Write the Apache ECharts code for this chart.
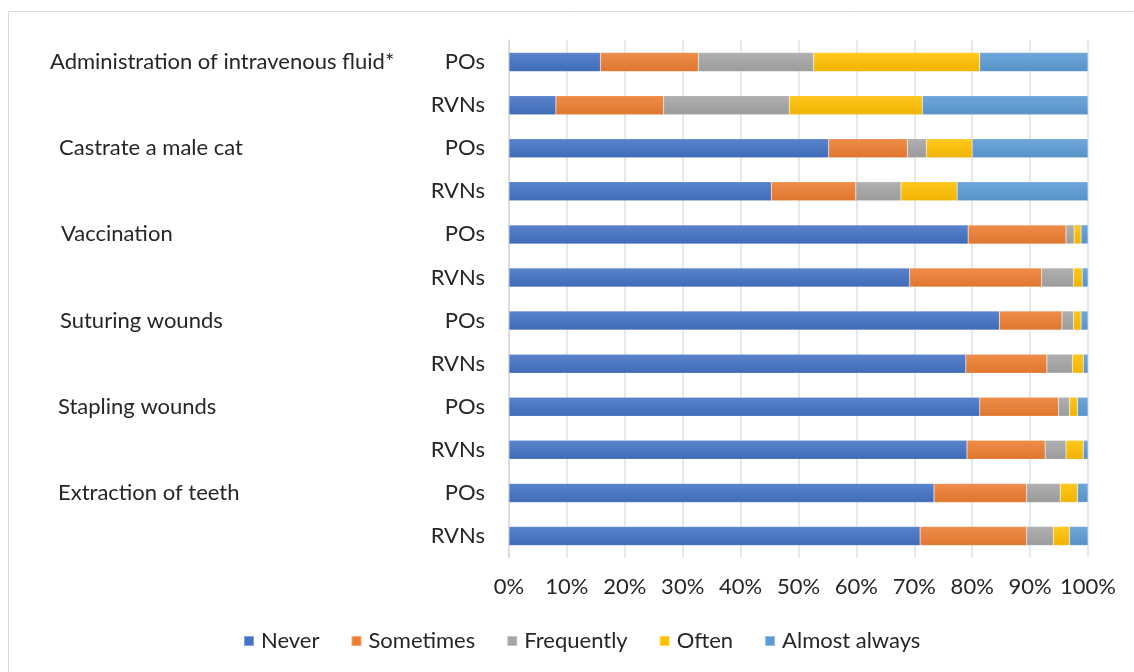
<!DOCTYPE html>
<html>
<head>
<meta charset="utf-8">
<script src="https://cdn.jsdelivr.net/npm/echarts@6/dist/echarts.min.js"></script>
<style>html,body{margin:0;padding:0;background:#fff}#c{width:1134px;height:672px}</style>
</head>
<body>
<div id="c"></div>
<script>
const groups = ['Administration of intravenous fluid*', 'Castrate a male cat', 'Vaccination', 'Suturing wounds', 'Stapling wounds', 'Extraction of teeth'];
const subLabels = ['POs', 'RVNs', 'POs', 'RVNs', 'POs', 'RVNs', 'POs', 'RVNs', 'POs', 'RVNs', 'POs', 'RVNs'];
const seriesNames = ['Never', 'Sometimes', 'Frequently', 'Often', 'Almost always'];
const never      = [15.8, 8.1, 55.2, 45.3, 79.3, 69.2, 84.7, 78.9, 81.3, 79.1, 73.4, 71.0];
const sometimes  = [16.9, 18.6, 13.6, 14.6, 16.9, 22.8, 10.8, 14.0, 13.6, 13.5, 16.0, 18.4];
const frequently = [19.9, 21.7, 3.3, 7.8, 1.4, 5.5, 2.0, 4.4, 1.9, 3.6, 5.8, 4.6];
const often      = [28.7, 23.0, 7.9, 9.7, 1.2, 1.5, 1.3, 1.9, 1.4, 3.0, 3.0, 2.8];
const almost     = [18.7, 28.6, 20.0, 22.6, 1.2, 1.0, 1.2, 0.8, 1.8, 0.8, 1.8, 3.2];
const xTicks = ['0%', '10%', '20%', '30%', '40%', '50%', '60%', '70%', '80%', '90%', '100%'];

const values = [never, sometimes, frequently, often, almost];
const colors = ['#4472C4', '#ED7D31', '#A5A5A5', '#FFC000', '#5B9BD5'];
const FONT = 'Lato';
const FS = 22;
const TXT = '#262626';

const rowIdx = subLabels.map((_, i) => i);
const groupAxisData = rowIdx.map(i => (i % 2 === 0) ? groups[i / 2] : '');
const groupPad = [0, 9, 11, 10, 8, 8];

function lighten(hex, amt) {
  const n = parseInt(hex.slice(1), 16);
  let r = (n >> 16) & 255, g = (n >> 8) & 255, b = n & 255;
  r = Math.round(r + (255 - r) * amt); g = Math.round(g + (255 - g) * amt); b = Math.round(b + (255 - b) * amt);
  return 'rgb(' + r + ',' + g + ',' + b + ')';
}
function darken(hex, amt) {
  const n = parseInt(hex.slice(1), 16);
  let r = (n >> 16) & 255, g = (n >> 8) & 255, b = n & 255;
  return 'rgb(' + Math.round(r * (1 - amt)) + ',' + Math.round(g * (1 - amt)) + ',' + Math.round(b * (1 - amt)) + ')';
}

const series = seriesNames.map((name, k) => ({
  name: name,
  type: 'bar',
  stack: 'total',
  yAxisIndex: 0,
  barWidth: 19,
  data: values[k],
  itemStyle: {
    color: new echarts.graphic.LinearGradient(0, 0, 0, 1, [
      { offset: 0, color: lighten(colors[k], 0.12) },
      { offset: 1, color: darken(colors[k], 0.06) }
    ]),
    borderColor: 'rgba(255,255,255,0.35)',
    borderWidth: 0.5
  },
  emphasis: { disabled: true }
}));

const richStyles = {};
groupPad.forEach((p, j) => {
  richStyles['g' + j] = { width: 420 - p, align: 'left', fontFamily: FONT, fontSize: FS, color: TXT };
});

const chart = echarts.init(document.getElementById('c'), null, { renderer: 'canvas' });
chart.setOption({
  animation: false,
  backgroundColor: '#fff',
  graphic: [{
    type: 'rect',
    shape: { x: 8.5, y: 11.5, width: 1140, height: 680 },
    style: { fill: 'none', stroke: '#D9D9D9', lineWidth: 1 },
    silent: true, z: -1
  }],
  color: colors,
  grid: { left: 509, right: 46, top: 40.5, bottom: 114.5, containLabel: false, outerBoundsMode: 'none' },
  legend: {
    bottom: 15,
    left: 238,
    itemWidth: 10,
    itemHeight: 10,
    itemGap: 31,
    icon: 'rect',
    data: seriesNames.map((n, k) => ({ name: n, itemStyle: { color: colors[k] } })),
    textStyle: { fontFamily: FONT, fontSize: FS, color: TXT, padding: [0, 0, 0, 2] }
  },
  xAxis: {
    type: 'value',
    min: 0, max: 100, interval: 10,
    axisLine: { show: false },
    axisTick: { show: false },
    splitLine: { show: true, lineStyle: { color: '#DCE0E6', width: 1.5 } },
    axisLabel: {
      margin: 18,
      fontFamily: FONT, fontSize: FS, color: TXT,
      formatter: v => xTicks[Math.round(v / 10)]
    }
  },
  yAxis: [{
    type: 'category',
    inverse: true,
    data: subLabels,
    axisLine: { show: true, lineStyle: { color: '#D9D9D9', width: 1.5 } },
    axisTick: { show: false },
    axisLabel: { margin: 24, fontFamily: FONT, fontSize: FS, color: TXT }
  }, {
    type: 'category',
    inverse: true,
    position: 'left',
    data: groupAxisData,
    axisLine: { show: false },
    axisTick: { show: false },
    axisLabel: {
      margin: 39,
      fontFamily: FONT, fontSize: FS, color: TXT,
      formatter: (v, i) => v ? '{g' + (i / 2) + '|' + v + '}' : '',
      rich: richStyles
    }
  }],
  series: series
});
</script>
</body>
</html>
